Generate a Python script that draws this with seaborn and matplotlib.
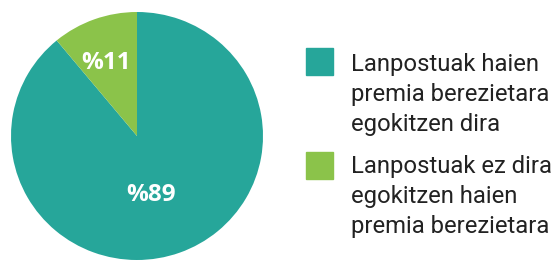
import matplotlib
matplotlib.use("Agg")
import matplotlib.pyplot as plt
import matplotlib.patches as mpatches
import seaborn as sns

labels = ["Lanpostuak haien\npremia berezietara\negokitzen dira",
          "Lanpostuak ez dira\negokitzen haien\npremia berezietara"]
values = [89, 11]
colors = ["#26a69a", "#8bc34a"]

sns.set_theme(style="white")
plt.rcParams["font.family"] = ["Roboto", "DejaVu Sans"]

fig = plt.figure(figsize=(5.53, 2.6), dpi=100)
# the original pie is a touch squashed vertically, so let it fill the box
ax = fig.add_axes([11 / 553, 0, 252 / 553, 248 / 260])

wedges, texts, autotexts = ax.pie(
    values, colors=colors, startangle=90, counterclock=False,
    autopct=lambda p: "%{:.0f}".format(p), pctdistance=0.5,
    wedgeprops=dict(linewidth=0),
    textprops=dict(color="white", fontsize=17.5, fontweight="bold",
                   family=["Open Sans", "DejaVu Sans"]))
ax.set_xlim(-1, 1)
ax.set_ylim(-1, 1)
ax.set_aspect("auto")

# label spots as in the original (axes data units)
autotexts[0].set_position((0.111, -0.476))
autotexts[1].set_position((-0.246, 0.591))

# legend drawn by hand so the swatch lines up with the first line
tops = [48, 152]
text_tops = [53, 155]
for lab, col, top, ttop in zip(labels, colors, tops, text_tops):
    fig.patches.append(mpatches.Rectangle(
        (306 / 553, 1 - (top + 27) / 260), 27 / 553, 27 / 260,
        transform=fig.transFigure, color=col, figure=fig))
    fig.text(351 / 553, 1 - ttop / 260, lab, fontsize=17.2,
             color="#222222", va="top", ha="left", linespacing=1.38)

fig.savefig("out.png", dpi=100)
